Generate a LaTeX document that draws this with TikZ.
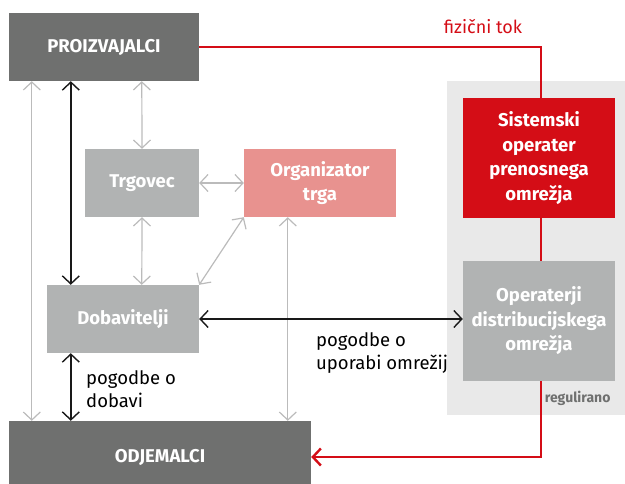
\documentclass[tikz,border=0pt]{standalone}
\usepackage{fontspec}
\setmainfont{Fira Sans}
\usetikzlibrary{arrows.meta}
\definecolor{tamna}{HTML}{6F706F}
\definecolor{svetla}{HTML}{B1B3B3}
\definecolor{roza}{HTML}{E8928F}
\definecolor{rdeca}{HTML}{D40D16}
\definecolor{ozadje}{HTML}{E9E9E9}
\definecolor{puscica}{HTML}{BBBBBB}
\tikzset{
  >={Straight Barb[length=8pt,width=17pt]},
  box/.style={inner sep=0pt, text=white, align=center,
    font=\fontsize{18.5}{24.5}\selectfont\bfseries},
  siva/.style={draw=puscica, line width=1.2pt, <->},
  crna/.style={draw=black!90, line width=1.4pt, <->},
  tok/.style={draw=rdeca, line width=2.4pt},
  opis/.style={align=left, anchor=north west, inner sep=0pt,
    font=\fontsize{18.5}{23.5}\selectfont}
}
\begin{document}
\begin{tikzpicture}[x=1pt,y=-1pt]
  \useasboundingbox (0,0) rectangle (625,483);
  \fill[ozadje] (447,81) rectangle (625,415);

  \node[box, fill=tamna, minimum width=190pt, minimum height=68pt] (proizv) at (104,47) {PROIZVAJALCI};
  \node[box, fill=svetla, minimum width=114pt, minimum height=68pt] (trgovec) at (142,183) {Trgovec};
  \node[box, fill=roza, minimum width=152pt, minimum height=68pt] (organizator) at (320,183) {Organizator\\trga};
  \node[box, fill=rdeca, minimum width=152pt, minimum height=120pt] (sopo) at (539,158) {Sistemski\\operater\\prenosnega\\omrežja};
  \node[box, fill=svetla, minimum width=152pt, minimum height=120pt] (odo) at (539,321) {Operaterji\\distribucijskega\\omrežja};
  \node[box, fill=svetla, minimum width=152pt, minimum height=68pt] (dobav) at (123,319) {Dobavitelji};
  \node[box, fill=tamna, minimum width=302pt, minimum height=72pt] (odjem) at (160,457) {ODJEMALCI};

  \node[text=rdeca, font=\fontsize{18}{22}\selectfont] (tok) at (483,27) {fizični tok};
  \node[text=tamna, font=\fontsize{14}{16}\selectfont\bfseries, anchor=east] (reg) at (614,398) {regulirano};
  \node[opis] (dobavi) at (86,370) {pogodbe o\\dobavi};
  \node[opis] (uporabi) at (316,332) {pogodbe o\\uporabi omrežij};

  % fizicni tok
  \draw[tok] (proizv.east) -| ([xshift=2pt]sopo.north);
  \draw[tok] ([xshift=2pt]sopo.south) -- ([xshift=2pt]odo.north);
  \draw[tok, ->] ([xshift=2pt]odo.south) |- (odjem.east);

  % sive povezave
  \draw[siva] ([xshift=23pt]proizv.south west) -- ([xshift=23pt]odjem.north west);
  \draw[siva] ([xshift=133pt]proizv.south west) -- (trgovec.north);
  \draw[siva] (trgovec.south) -- ([xshift=95pt]dobav.north west);
  \draw[siva] (trgovec.east) -- (organizator.west);
  \draw[siva] (organizator.south west) -- (dobav.north east);
  \draw[siva] ([xshift=44pt]organizator.south west) -- ([xshift=279pt]odjem.north west);

  % pogodbe
  \draw[crna] ([xshift=62pt]proizv.south west) -- ([xshift=24pt]dobav.north west);
  \draw[crna] ([xshift=24pt]dobav.south west) -- ([xshift=62pt]odjem.north west);
  \draw[crna] (dobav.east) -- (dobav.east -| odo.west);
\end{tikzpicture}
\end{document}
